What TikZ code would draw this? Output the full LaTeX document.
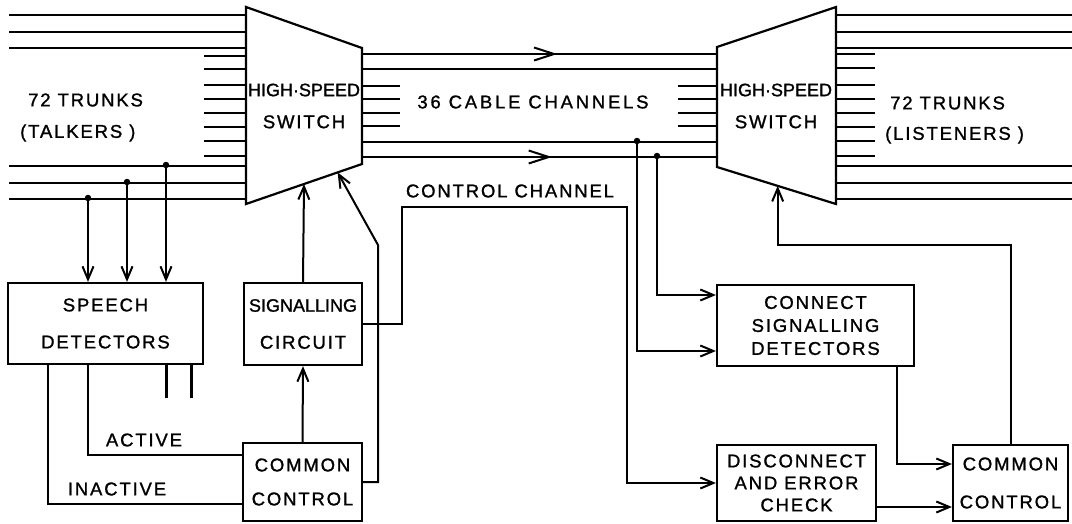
\documentclass[tikz,border=0pt]{standalone}
\usepackage{fontspec}
\setmainfont{Liberation Sans}[LetterSpace=10,FakeBold=1.2]
\usetikzlibrary{arrows.meta,calc,decorations.markings}
\begin{document}
\begin{tikzpicture}[x=1pt,y=-1pt,
  ln/.style={line width=2pt},
  arr/.style={ln,-{Straight Barb[length=13pt,width=11pt,line width=2pt]}},
  blk/.style={draw,line width=2.2pt,inner sep=0pt,align=center,font=\fontsize{18.5}{21}\selectfont},
  lbl/.style={inner sep=0pt,align=center,font=\fontsize{18.5}{21}\selectfont},
  dot/.style={circle,fill,inner sep=0pt,minimum size=6.5pt},
  midarr/.style={postaction={decorate},decoration={markings,mark=at position #1 with {\arrow{Straight Barb[length=20pt,width=13pt,line width=2pt]}}}}]
\useasboundingbox (0,0) rectangle (1072,523);

% switch corners
\coordinate (LTL) at (246,7);   \coordinate (LBL) at (246,204);
\coordinate (LTR) at (362,48);  \coordinate (LBR) at (362,164);
\coordinate (RTL) at (717,47);  \coordinate (RBL) at (717,167);
\coordinate (RTR) at (836,7);   \coordinate (RBR) at (836,204);

% trunk lines, left
\foreach \y in {15,32,48,166,183,199} \draw[ln] (9,\y) -- (246,\y);
\foreach \y in {56,69,85,99,113,127,141,156} \draw[ln] (204,\y) -- (246,\y);
% cable channels
\draw[ln,midarr=0.55] (362,54) -- (717,54);
\draw[ln] (362,69) -- (717,69);
\draw[ln] (362,142) -- (717,142);
\draw[ln,midarr=0.535] (362,157) -- (717,157);
\foreach \y in {86,99,113,126} {\draw[ln] (362,\y) -- (400,\y); \draw[ln] (678,\y) -- (717,\y);}
% trunk lines, right
\foreach \y in {15,32,48,166,183,199} \draw[ln] (836,\y) -- (1072,\y);
\foreach \y in {54,68,85,99,113,127,141,156} \draw[ln] (836,\y) -- (875,\y);

% switches
\draw[line width=2.2pt,fill=white] (LTL) -- (LTR) -- (LBR) -- (LBL) -- cycle;
\draw[line width=2.2pt,fill=white] (RTL) -- (RTR) -- (RBR) -- (RBL) -- cycle;
\node[lbl] (lsw) at (304,106) {{\fontsize{18}{21}\selectfont\addfontfeature{LetterSpace=0}HIGH·SPEED}\\[11pt]SWITCH};
\node[lbl] (rsw) at (776,106) {{\fontsize{18}{21}\selectfont\addfontfeature{LetterSpace=0}HIGH·SPEED}\\[11pt]SWITCH};

% labels
\node[lbl,anchor=west] (t72l) at (28,100) {72 TRUNKS};
\node[lbl,anchor=west] (tal) at (20,133) {(TALKERS )};
\node[lbl,anchor=west] (t72r) at (890,103) {72 TRUNKS};
\node[lbl,anchor=west] (lis) at (885,135) {(LISTENERS )};
\node[lbl] (cab) at (533,102) {{\addfontfeature{LetterSpace=15}36 CABLE CHANNELS}};
\node[lbl] (ctl) at (510,191) {CONTROL CHANNEL};
\node[lbl] (act) at (144,440) {ACTIVE};
\node[lbl] (ina) at (117,489) {INACTIVE};

% boxes
\node[blk,minimum width=195pt,minimum height=81pt] (spd) at (105.5,323.5) {SPEECH\\[16pt]DETECTORS};
\node[blk,minimum width=118pt,minimum height=82pt] (sig) at (303,324) {{\fontsize{18}{21}\selectfont\addfontfeature{LetterSpace=0}SIGNALLING}\\[16pt]CIRCUIT};
\node[blk,minimum width=119pt,minimum height=78pt] (lcc) at (302.5,482) {COMMON\\[13pt]CONTROL};
\node[blk,minimum width=197pt,minimum height=81pt] (conn) at (815.5,325.5) {CONNECT\\[2pt]SIGNALLING\\[2pt]DETECTORS};
\node[blk,minimum width=159pt,minimum height=76pt] (dis) at (796.5,483) {DISCONNECT\\[1pt]AND ERROR\\[1pt]CHECK};
\node[blk,minimum width=115pt,minimum height=76pt] (rcc) at (1010.5,483) {COMMON\\[17pt]CONTROL};

% taps to speech detectors
\foreach \x/\y in {88/198,127/182,166/165} {
  \node[dot] (d\x) at (\x,\y) {};
  \draw[arr] (d\x.center) -- (d\x |- spd.north);
}
% taps to connect box
\node[dot] (c1) at (637,141) {};
\node[dot] (c2) at (657,156) {};
\draw[arr] (c1.center) |- ([yshift=-25.5pt]conn.west);
\draw[arr] (c2.center) |- ([yshift=30.5pt]conn.west);

% left control
\coordinate (la1) at ($(LBL)!0.5!(LBR)$);
\coordinate (la2) at ($(LBL)!0.79!(LBR)$);
\coordinate (k1) at (378,245);
\draw[arr] (sig.north) -- (la1);
\draw[arr] (lcc.north) -- (sig.south);
\draw[arr] (lcc.east) -| (k1) -- (la2);
\draw[ln] ([xshift=-17.5pt]spd.south) |- ([yshift=27pt]lcc.west);
\draw[ln] ([xshift=-57.5pt]spd.south) |- ([yshift=-22pt]lcc.west);
\draw[line width=3pt] ([xshift=60.5pt]spd.south) -- ++(0,33);
\draw[line width=3pt] ([xshift=85.5pt]spd.south) -- ++(0,33);

% control channel
\coordinate (cc1) at (402,207);
\coordinate (cc2) at (627,207);
\draw[arr] (sig.east) -| (cc1) -- (cc2) |- (dis.west);

% right control
\draw[arr] ([xshift=-18.5pt]conn.south east) |- ([yshift=19pt]rcc.west);
\draw[arr] ([yshift=-24pt]dis.east) -- ([yshift=-24pt]rcc.west);
\coordinate (rh) at (0,245);
\coordinate (ra) at ($(RBL)!0.51!(RBR)$);
\draw[arr] (rcc.north) |- (ra |- rh) -- (ra);
\end{tikzpicture}
\end{document}
